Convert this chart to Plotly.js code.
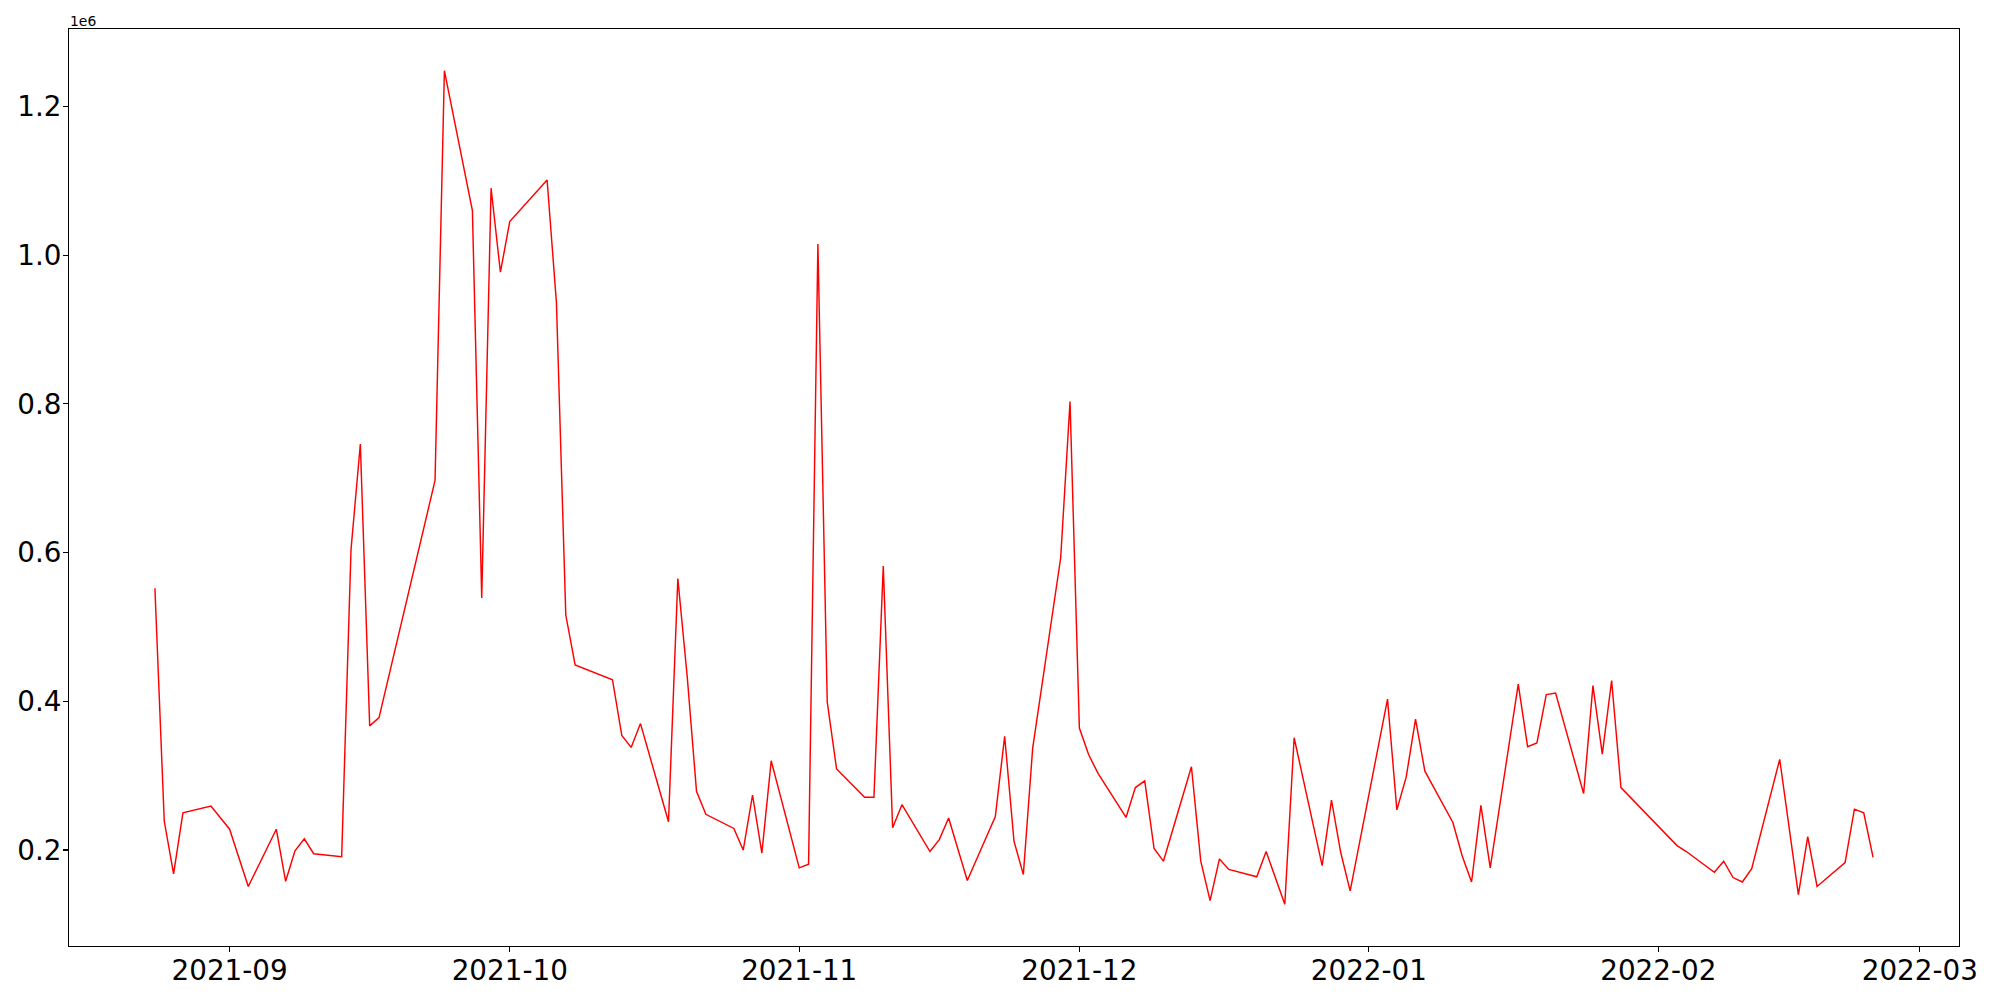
<!DOCTYPE html>
<html>
<head>
<meta charset="utf-8">
<script src="https://cdn.plot.ly/plotly-3.0.1.min.js"></script>
<style>
  html, body { margin: 0; padding: 0; background: #ffffff; }
  #chart { width: 2000px; height: 1000px; }
</style>
</head>
<body>
<div id="chart"></div>
<script>
// ---- data ----
const dates = [
  "2021-08-24","2021-08-25","2021-08-26","2021-08-27","2021-08-30",
  "2021-09-01","2021-09-03","2021-09-06","2021-09-07","2021-09-08","2021-09-09","2021-09-10",
  "2021-09-13","2021-09-14","2021-09-15","2021-09-16","2021-09-17",
  "2021-09-23","2021-09-24","2021-09-27","2021-09-28","2021-09-29","2021-09-30","2021-10-01",
  "2021-10-05","2021-10-06","2021-10-07","2021-10-08",
  "2021-10-12","2021-10-13","2021-10-14","2021-10-15",
  "2021-10-18","2021-10-19","2021-10-20","2021-10-21","2021-10-22",
  "2021-10-25","2021-10-26","2021-10-27","2021-10-28","2021-10-29",
  "2021-11-01","2021-11-02","2021-11-03","2021-11-04","2021-11-05",
  "2021-11-08","2021-11-09","2021-11-10","2021-11-11","2021-11-12",
  "2021-11-15","2021-11-16","2021-11-17","2021-11-19",
  "2021-11-22","2021-11-23","2021-11-24","2021-11-25","2021-11-26",
  "2021-11-29","2021-11-30","2021-12-01","2021-12-02","2021-12-03",
  "2021-12-06","2021-12-07","2021-12-08","2021-12-09","2021-12-10",
  "2021-12-13","2021-12-14","2021-12-15","2021-12-16","2021-12-17",
  "2021-12-20","2021-12-21","2021-12-23","2021-12-24",
  "2021-12-27","2021-12-28","2021-12-29","2021-12-30",
  "2022-01-03","2022-01-04","2022-01-05","2022-01-06","2022-01-07",
  "2022-01-10","2022-01-11","2022-01-12","2022-01-13","2022-01-14",
  "2022-01-17","2022-01-18","2022-01-19","2022-01-20","2022-01-21",
  "2022-01-24","2022-01-25","2022-01-26","2022-01-27","2022-01-28",
  "2022-02-03","2022-02-04",
  "2022-02-07","2022-02-08","2022-02-09","2022-02-10","2022-02-11",
  "2022-02-14","2022-02-16","2022-02-17","2022-02-18",
  "2022-02-21","2022-02-22","2022-02-23","2022-02-24"
];
const values = [
  552000,239000,168000,250000,259000,
  228000,151000,228000,158000,199000,215000,195000,
  191000,604000,746000,367000,378000,
  697000,1248000,1060000,539000,1090000,977000,1045000,
  1101000,936000,516000,449000,
  429000,354000,338000,370000,
  238000,565000,434000,279000,248000,
  229000,200000,274000,196000,320000,
  176000,181000,1015000,399000,309000,
  271000,271000,582000,230000,261000,
  198000,214000,243000,159000,
  245000,353000,212000,167000,337000,
  593000,803000,364000,328000,303000,
  244000,284000,293000,202000,185000,
  312000,185000,132000,188000,174000,
  164000,198000,127000,351000,
  179000,267000,196000,145000,
  403000,254000,298000,376000,306000,
  237000,192000,157000,260000,176000,
  423000,339000,344000,409000,411000,
  276000,421000,329000,428000,284000,
  206000,198000,
  170000,185000,163000,157000,175000,
  322000,140000,218000,151000,
  183000,255000,250000,190000
];
const xTickVals = ["2021-09-01","2021-10-01","2021-11-01","2021-12-01","2022-01-01","2022-02-01","2022-03-01"];
const xTickText = ["2021-09","2021-10","2021-11","2021-12","2022-01","2022-02","2022-03"];
const yTickVals = [200000,400000,600000,800000,1000000,1200000];
const yTickText = ["0.2","0.4","0.6","0.8","1.0","1.2"];
const offsetText = "1e6";

// ---- axis ranges with 5% margins (like the source plot) ----
const tms = dates.map(d => Date.parse(d + "T00:00:00Z"));
const tMin = Math.min(...tms), tMax = Math.max(...tms);
const tPad = (tMax - tMin) * 0.05;
const fmt = ms => new Date(ms).toISOString().replace("T", " ").slice(0, 19);
const vMin = Math.min(...values), vMax = Math.max(...values);
const vPad = (vMax - vMin) * 0.05;

const FONT = "DejaVu Sans, sans-serif";
const TICKFS = 27.8;

const trace = {
  type: "scatter",
  mode: "lines",
  x: dates,
  y: values,
  line: { color: "#ff0000", width: 1.45 },
  hoverinfo: "skip"
};

const axisCommon = {
  showgrid: false,
  zeroline: false,
  showline: true,
  linecolor: "#000000",
  linewidth: 1.1,
  mirror: true,
  ticks: "outside",
  ticklen: 4.9,
  tickwidth: 1.1,
  tickcolor: "#000000",
  tickfont: { family: FONT, size: TICKFS, color: "#000000" },
  automargin: false
};

const layout = {
  width: 2000,
  height: 1000,
  paper_bgcolor: "#ffffff",
  plot_bgcolor: "#ffffff",
  showlegend: false,
  margin: { l: 69, r: 41, t: 29, b: 54, pad: 0 },
  xaxis: Object.assign({}, axisCommon, {
    type: "date",
    range: [fmt(tMin - tPad), fmt(tMax + tPad)],
    tickmode: "array",
    tickvals: xTickVals,
    ticktext: xTickText,
    ticklabelstandoff: -5
  }),
  yaxis: Object.assign({}, axisCommon, {
    range: [vMin - vPad, vMax + vPad],
    tickmode: "array",
    tickvals: yTickVals,
    ticktext: yTickText,
    ticklabelstandoff: -4
  }),
  annotations: [{
    text: offsetText,
    xref: "paper", yref: "paper",
    x: 0, y: 1,
    xanchor: "left", yanchor: "bottom",
    showarrow: false,
    font: { family: FONT, size: 13.9, color: "#000000" },
    borderpad: 0,
    yshift: -0.5
  }]
};

Plotly.newPlot("chart", [trace], layout, { staticPlot: true, displayModeBar: false });
</script>
</body>
</html>
